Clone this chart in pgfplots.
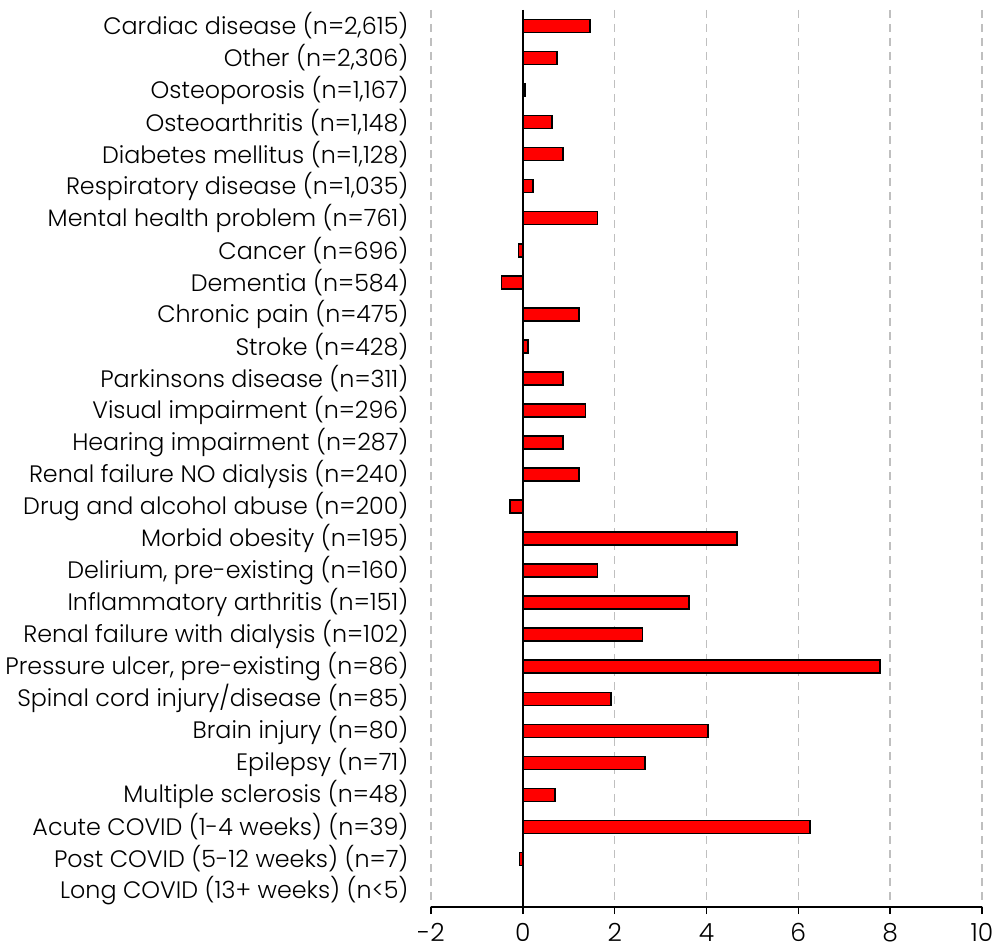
\documentclass[border=0pt]{standalone}
\usepackage{pgfplots}
\pgfplotsset{compat=1.18}
\usepackage{pgfplotstable}
\usepackage{fontspec}
\setmainfont{Poppins Light}

% row (0 = top), value
\pgfplotstableread{
row val
0  1.46
1  0.74
2  0.05
3  0.63
4  0.87
5  0.22
6  1.63
7  -0.09
8  -0.46
9  1.22
10 0.11
11 0.87
12 1.37
13 0.87
14 1.22
15 -0.28
16 4.66
17 1.63
18 3.62
19 2.61
20 7.78
21 1.92
22 4.03
23 2.66
24 0.70
25 6.25
26 -0.07
}\conds

\begin{document}
\begin{tikzpicture}
\begin{axis}[
  scale only axis,
  width=551pt, height=897pt,
  xmin=-2, xmax=10,
  ymin=-0.5, ymax=27.5,
  y dir=reverse,
  xtick={-2,0,...,10},
  xticklabels={-2,0,2,4,6,8,10},
  ytick={0,...,27},
  yticklabels={
    {Cardiac disease (n=2,615)},
    {Other (n=2,306)},
    {Osteoporosis (n=1,167)},
    {Osteoarthritis (n=1,148)},
    {Diabetes mellitus (n=1,128)},
    {Respiratory disease (n=1,035)},
    {Mental health problem (n=761)},
    {Cancer (n=696)},
    {Dementia (n=584)},
    {Chronic pain (n=475)},
    {Stroke (n=428)},
    {Parkinsons disease (n=311)},
    {Visual impairment (n=296)},
    {Hearing impairment (n=287)},
    {Renal failure NO dialysis (n=240)},
    {Drug and alcohol abuse (n=200)},
    {Morbid obesity (n=195)},
    {Delirium, pre-existing (n=160)},
    {Inflammatory arthritis (n=151)},
    {Renal failure with dialysis (n=102)},
    {Pressure ulcer, pre-existing (n=86)},
    {Spinal cord injury/disease (n=85)},
    {Brain injury (n=80)},
    {Epilepsy (n=71)},
    {Multiple sclerosis (n=48)},
    {Acute COVID (1-4 weeks) (n=39)},
    {Post COVID (5-12 weeks) (n=7)},
    {Long COVID (13+ weeks) (n<5)}},
  axis x line=bottom,
  axis y line=left,
  y axis line style={draw=none},
  x axis line style={black, line width=1.5pt, -},
  ytick style={draw=none},
  tick align=outside,
  major tick length=7pt,
  xtick style={black, line width=1.5pt},
  xmajorgrids,
  major grid style={gray!50, line width=1.5pt, dash pattern=on 8pt off 6pt},
  extra x ticks={0},
  extra x tick labels={},
  extra x tick style={grid=major, major grid style={black, solid, line width=1.5pt}, major tick length=0pt},
  yticklabel style={font=\fontsize{23.8}{28}\selectfont, xshift=-12pt},
  xticklabel style={font=\fontsize{25}{29}\selectfont, yshift=-6pt},
  clip=false,
]
\addplot[xbar, bar width=13pt, fill=red, draw=black, line width=1.5pt]
  table[x=val, y=row] {\conds};
\end{axis}
\pgfresetboundingbox
\path (current axis.south west) ++(-431pt,-45pt) rectangle ++(999pt,952pt);
\end{tikzpicture}
\end{document}
